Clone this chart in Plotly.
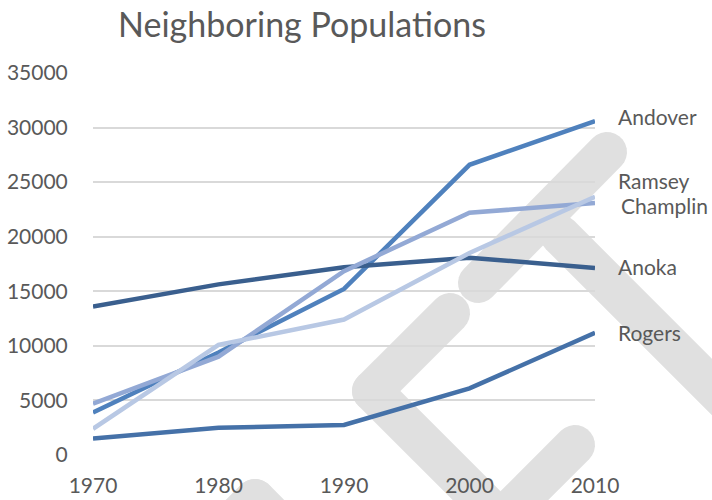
import math
import plotly.graph_objects as go

# ---- data ----
years = [1970, 1980, 1990, 2000, 2010]
andover = [3900, 9387, 15216, 26588, 30598]
anoka = [13600, 15634, 17192, 18076, 17142]
champlin = [4700, 9006, 16849, 22193, 23089]
ramsey = [2400, 10093, 12408, 18510, 23668]
rogers = [1500, 2500, 2750, 6100, 11197]
y_ticks = [0, 5000, 10000, 15000, 20000, 25000, 30000, 35000]

series = [
    ("Andover", andover, "#4f81bd"),
    ("Anoka", anoka, "#3a5f8e"),
    ("Champlin", champlin, "#93a9d5"),
    ("Ramsey", ramsey, "#b8c8e4"),
    ("Rogers", rogers, "#4571a8"),
]
# label offsets (style only)
label_yshift = {"Andover": 5, "Anoka": 1, "Champlin": -2, "Ramsey": 16, "Rogers": 0}
label_xshift = {"Andover": 21, "Anoka": 21, "Champlin": 24, "Ramsey": 21, "Rogers": 21}

W, H = 712, 500
SL, SR, ST, SB = 93, 595, 73, 455  # plot box in pixels
ML, MT = SL, ST
MR, MB = W - SR, H - SB

FONT = "Lato"
GRAY = "#595959"

fig = go.Figure()
for name, vals, color in series:
    fig.add_trace(go.Scatter(x=years, y=vals, mode="lines", name=name,
                             line=dict(color=color, width=4.5), showlegend=False,
                             hoverinfo="skip"))
    fig.add_annotation(x=years[-1], y=vals[-1], xref="x", yref="y", text=name,
                       showarrow=False, xanchor="left", yanchor="middle",
                       xshift=label_xshift[name], yshift=label_yshift[name],
                       font=dict(family=FONT, size=21, color=GRAY))

# ---- background watermark (decoration) ----
def px2paper(px, py):
    return (px - SL) / (SR - SL), (SB - py) / (SB - ST)

def capsule(x0, y0, x1, y1, r, n=14):
    a = math.atan2(y1 - y0, x1 - x0)
    pts = []
    for i in range(n):
        t = a - math.pi / 2 + math.pi * i / (n - 1)
        pts.append((x1 + r * math.cos(t), y1 + r * math.sin(t)))
    for i in range(n):
        t = a + math.pi / 2 + math.pi * i / (n - 1)
        pts.append((x0 + r * math.cos(t), y0 + r * math.sin(t)))
    pp = [px2paper(x, y) for x, y in pts]
    return "M " + " L ".join(f"{x:.4f},{y:.4f}" for x, y in pp) + " Z"

wm_strokes = [
    (607, 152, 478, 283),
    (560, 235, 790, 465),
    (450, 313, 372, 391),
    (372, 391, 500, 519),
    (575, 445, 510, 510),
    (255, 499, 215, 539),
    (255, 499, 295, 539),
]
for x0, y0, x1, y1 in wm_strokes:
    fig.add_shape(type="path", path=capsule(x0, y0, x1, y1, 20), xref="paper", yref="paper",
                  fillcolor="#e0e0e0", line=dict(width=0), layer="between")

fig.update_layout(
    width=W, height=H,
    margin=dict(l=ML, r=MR, t=MT, b=MB, pad=0, autoexpand=False),
    paper_bgcolor="white", plot_bgcolor="white",
    title=dict(text="Neighboring Populations", x=302 / W, xanchor="center",
               xref="container", y=1 - 25 / H, yanchor="middle", yref="container",
               font=dict(family=FONT, size=34, color=GRAY)),
    xaxis=dict(range=[1970, 2010], tickmode="array", tickvals=years, automargin=False,
               ticktext=[str(y) for y in years], showgrid=False, zeroline=False,
               showline=False, ticks="outside", ticklen=12, tickcolor="rgba(0,0,0,0)",
               tickfont=dict(family=FONT, size=21, color=GRAY)),
    yaxis=dict(range=[0, 35000], tickmode="array", tickvals=y_ticks, automargin=False,
               ticktext=[str(v) for v in y_ticks], showgrid=True, gridcolor="#d9d9d9",
               gridwidth=1.6, zeroline=False, showline=False, ticks="outside", ticklen=20,
               tickcolor="rgba(0,0,0,0)", tickfont=dict(family=FONT, size=21, color=GRAY)),
)

fig.write_html("out.html", config={"displayModeBar": False},
               post_script="document.body.style.margin='0px';")
